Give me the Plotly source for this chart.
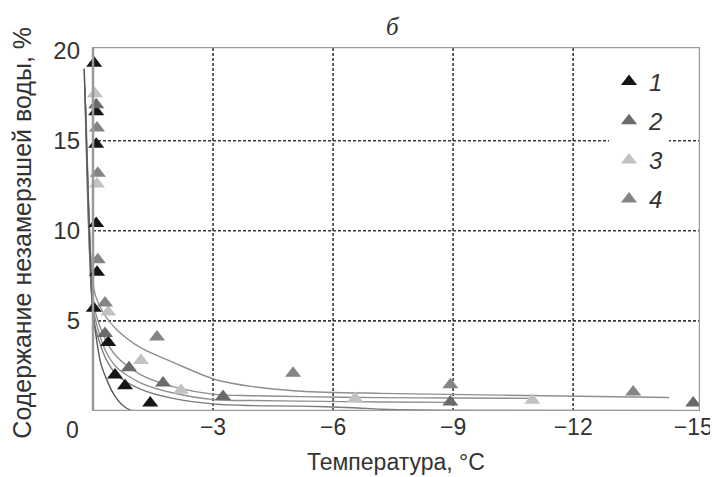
import plotly.graph_objects as go

# ---- data ----
s1_t = [-0.03, -0.08, -0.08, -0.08, -0.1, -0.02, -0.38, -0.55, -0.8, -1.43]
s1_w = [19.3, 16.6, 14.8, 10.4, 7.7, 5.7, 3.8, 2.0, 1.4, 0.45]

s2_t = [-0.08, -0.3, -0.9, -1.75, -3.25, -8.93, -15.0]
s2_w = [17.0, 4.3, 2.4, 1.55, 0.8, 0.5, 0.45]

s3_t = [-0.05, -0.1, -0.38, -1.2, -2.2, -6.55, -10.98]
s3_w = [17.6, 12.6, 5.5, 2.8, 1.15, 0.7, 0.6]

s4_t = [-0.1, -0.12, -0.12, -0.3, -1.6, -5.0, -8.93, -13.5]
s4_w = [15.7, 13.2, 8.4, 6.0, 4.1, 2.1, 1.45, 1.05]

# fitted curves
ca_t = [0.15, 0.1, 0.04, -0.05, -0.3, -0.6, -1.2, -2.0, -3.05, -4.0, -5.2, -7.2, -10.2, -14.4]
ca_w = [14.5, 10.5, 8.0, 6.5, 5.3, 4.5, 3.5, 2.7, 1.75, 1.35, 1.1, 0.98, 0.88, 0.75]
cb_t = [0.22, 0.15, 0.08, 0.0, -0.3, -0.6, -1.2, -2.0, -3.05, -4.0, -5.2, -7.2, -9.0, -11.0]
cb_w = [19.0, 13.0, 8.5, 6.0, 4.0, 3.0, 2.0, 1.35, 0.92, 0.85, 0.8, 0.74, 0.72, 0.7]
cc_t = [0.18, 0.12, 0.05, -0.02, -0.3, -0.6, -1.2, -2.0, -3.05, -4.0, -5.2, -7.2, -9.0]
cc_w = [17.0, 12.0, 8.0, 5.5, 3.4, 2.4, 1.55, 1.0, 0.62, 0.58, 0.55, 0.5, 0.48]
cd_t = [0.2, 0.12, 0.05, -0.02, -0.3, -0.6, -1.2, -2.0, -3.05, -4.0, -5.2, -6.5, -7.2, -8.5, -10.0, -15.1]
cd_w = [18.0, 11.0, 7.0, 5.0, 3.0, 2.0, 1.2, 0.7, 0.38, 0.3, 0.27, 0.18, 0.1, 0.05, 0.03, 0.02]
ce_t = [0.22, 0.15, 0.08, 0.02, -0.1, -0.2, -0.35, -0.5, -0.7, -0.95, -1.2]
ce_w = [19.0, 14.0, 9.5, 6.0, 3.8, 2.6, 1.7, 1.0, 0.4, 0.03, 0.0]

x_tick_vals = [-3, -6, -9, -12, -15]
x_tick_text = ["\u22123", "\u22126", "\u22129", "\u221212", "\u221215"]
y_tick_vals = [5, 10, 15, 20]
y_tick_text = ["5", "10", "15", "20"]
x_grid = [-3, -6, -9, -12]
y_grid = [5, 10, 15]

X_MIN, X_MAX = 0.3, -15.17
Y_MIN, Y_MAX = 0, 20.2

TXT = "#333333"
FONT = "Liberation Sans, Arial, sans-serif"

fig = go.Figure()

for t, w, col in [(ca_t, ca_w, "#8f8f8f"), (cb_t, cb_w, "#8f8f8f"),
                  (cc_t, cc_w, "#8f8f8f"), (cd_t, cd_w, "#7a7a7a"),
                  (ce_t, ce_w, "#5a5a5a")]:
    fig.add_trace(go.Scatter(x=t, y=w, mode="lines", showlegend=False,
                             line=dict(color=col, width=1.4, shape="spline", smoothing=0.8),
                             hoverinfo="skip"))

series = [("1", s1_t, s1_w, "#151515"), ("2", s2_t, s2_w, "#6a6a6a"),
          ("3", s3_t, s3_w, "#c2c2c2"), ("4", s4_t, s4_w, "#858585")]
for name, t, w, col in series:
    fig.add_trace(go.Scatter(x=t, y=w, mode="markers", name=name, legendgroup=name,
                             marker=dict(symbol="triangle-up", size=14, color=col,
                                         line=dict(width=0))))

shapes = []
for v in x_grid:
    shapes.append(dict(type="line", xref="x", yref="y", x0=v, x1=v, y0=Y_MIN, y1=Y_MAX,
                       line=dict(color="#3a3a3a", width=1.6, dash="3px,2px"), layer="below"))
for v in y_grid:
    shapes.append(dict(type="line", xref="x", yref="y", x0=0, x1=X_MAX, y0=v, y1=v,
                       line=dict(color="#3a3a3a", width=1.6, dash="3px,2px"), layer="below"))
shapes.append(dict(type="rect", xref="x", yref="y", x0=0, x1=X_MAX, y0=Y_MIN, y1=Y_MAX,
                   line=dict(color="#9a9a9a", width=2.5), layer="above"))

# page body has an 8px margin, so the figure is sized/offset to compensate
fig.update_layout(
    width=710, height=469,
    margin=dict(l=73, r=18, t=39, b=66, autoexpand=False),
    paper_bgcolor="white", plot_bgcolor="white",
    font=dict(family=FONT, color=TXT, size=24),
    shapes=shapes,
    xaxis=dict(range=[X_MIN, X_MAX], showgrid=False, zeroline=False, showline=False,
               tickmode="array", tickvals=x_tick_vals, ticktext=x_tick_text,
               ticks="", tickfont=dict(size=23, color=TXT), automargin=False),
    yaxis=dict(range=[Y_MIN, Y_MAX], showgrid=False, zeroline=False, showline=False,
               tickmode="array", tickvals=y_tick_vals, ticktext=y_tick_text,
               ticks="", tickfont=dict(size=24, color=TXT), automargin=False),
    legend=dict(x=0.853, y=0.966, xanchor="left", yanchor="top",
                bgcolor="white", borderwidth=0, tracegroupgap=5,
                font=dict(size=24, color=TXT, style="italic")),
    showlegend=True,
    annotations=[
        dict(text="0", xref="paper", yref="paper", x=-0.013, y=-0.052,
             xanchor="center", yanchor="middle", showarrow=False,
             font=dict(size=23, color=TXT)),
        dict(text="Температура, °C", xref="paper", yref="paper", x=0.509, y=-0.140,
             xanchor="center", yanchor="middle", showarrow=False,
             font=dict(size=23, color=TXT)),
        dict(text="Содержание незамерзшей воды, %", xref="paper", yref="paper",
             x=-0.0953, y=0.49, xanchor="center", yanchor="middle", textangle=-90,
             showarrow=False, font=dict(size=25, color=TXT)),
        dict(text="<i>б</i>", xref="paper", yref="paper", x=0.504, y=1.055,
             xanchor="center", yanchor="middle", showarrow=False,
             font=dict(size=25, color=TXT, family="Liberation Serif, serif")),
    ],
)

fig.write_html("out.html")
